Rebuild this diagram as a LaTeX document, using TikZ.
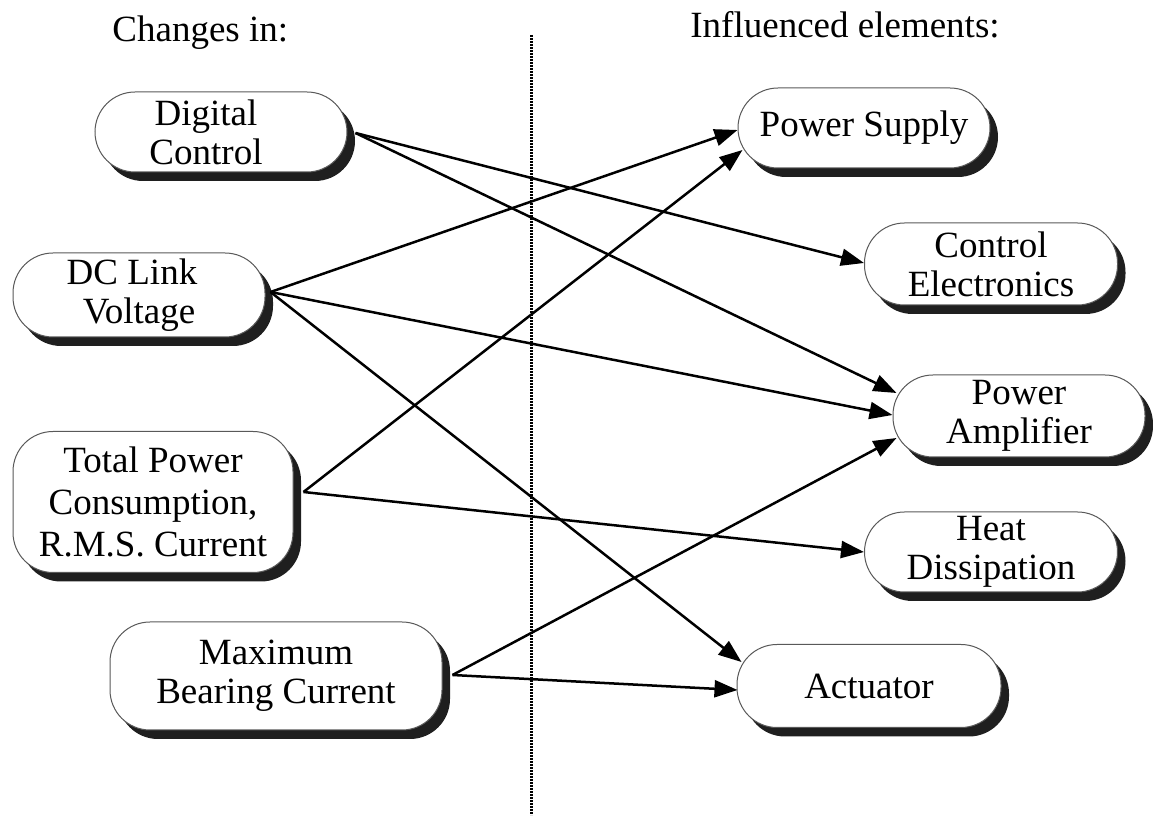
\documentclass[tikz,border=0pt]{standalone}
\usepackage{fontspec}
\setmainfont{Liberation Serif}
\usetikzlibrary{arrows.meta,shadows,calc}
\begin{document}
\begin{tikzpicture}[x=0.5pt,y=-0.5pt,
  box/.style={draw=black!65, line width=0.5pt, fill=white, rounded corners=20pt,
    align=center, inner sep=0pt, font=\fontsize{18.5}{19.5}\selectfont,
    drop shadow={shadow xshift=4pt, shadow yshift=-4.5pt, fill=black!88, opacity=1}},
  conn/.style={line width=1.25pt, -{Triangle[length=11.5pt,width=8.5pt]}},
  hdr/.style={font=\fontsize{18.5}{20}\selectfont, anchor=base west, inner sep=0pt},
  divider/.style={line width=1.5pt, dash pattern=on 0.8pt off 0.7pt}]
\useasboundingbox (0,0) rectangle (1153,823);

% headers
\node[hdr] (h1) at (112,42) {Changes in:};
\node[hdr] (h2) at (690,38) {Influenced elements:};

% divider
\coordinate (dtop) at (531,35);
\coordinate (dbot) at (531,815);
\draw[divider] (dtop) -- (dbot);

% left nodes
\node[box, minimum width=126pt, minimum height=40pt] (dc) at (221,132) {Digital\hspace*{15pt}\\Control\hspace*{15pt}};
\node[box, minimum width=126pt, minimum height=42pt] (dcl) at (139,295) {DC Link\hspace*{7pt}\\Voltage};
\node[box, minimum width=140pt, minimum height=70.5pt, font=\fontsize{18.5}{21}\selectfont] (tp) at (153,502) {Total Power\\Consumption,\\R.M.S. Current};
\node[box, minimum width=166pt, minimum height=54pt] (mb) at (276,676) {Maximum\\Bearing Current};

% right nodes
\node[box, minimum width=126pt, minimum height=40pt] (ps) at (864,128) {Power Supply};
\node[box, minimum width=126.5pt, minimum height=41pt] (ce) at (991,264) {Control\\Electronics};
\node[box, minimum width=126pt, minimum height=41pt] (pa) at (1019,416) {Power\\Amplifier};
\node[box, minimum width=126.5pt, minimum height=40pt] (hd) at (991,552) {Heat\\Dissipation};
\node[box, minimum width=132pt, minimum height=41.5pt] (act) at (869,686) {Actuator};

% connectors
\draw[conn] ($(dc.east)+(8,1)$) -- ($(ce.west)+(0,-1)$);
\draw[conn] ($(dc.east)+(8,1)$) -- ($(pa.west)+(4,-23)$);
\draw[conn] ($(dcl.east)+(5,-3)$) -- ($(ps.west)+(0,2)$);
\draw[conn] ($(dcl.east)+(5,-3)$) -- ($(pa.west)+(0,-1)$);
\draw[conn] ($(dcl.east)+(5,-3)$) -- ($(act.west)+(5,-24)$);
\draw[conn] ($(tp.east)+(10,-10)$) -- ($(ps.west)+(5,22)$);
\draw[conn] ($(tp.east)+(10,-10)$) -- ($(hd.west)+(0,0)$);
\draw[conn] ($(mb.east)+(10,-1)$) -- ($(pa.west)+(4,22)$);
\draw[conn] ($(mb.east)+(10,-1)$) -- ($(act.west)+(1,4)$);
\end{tikzpicture}
\end{document}
